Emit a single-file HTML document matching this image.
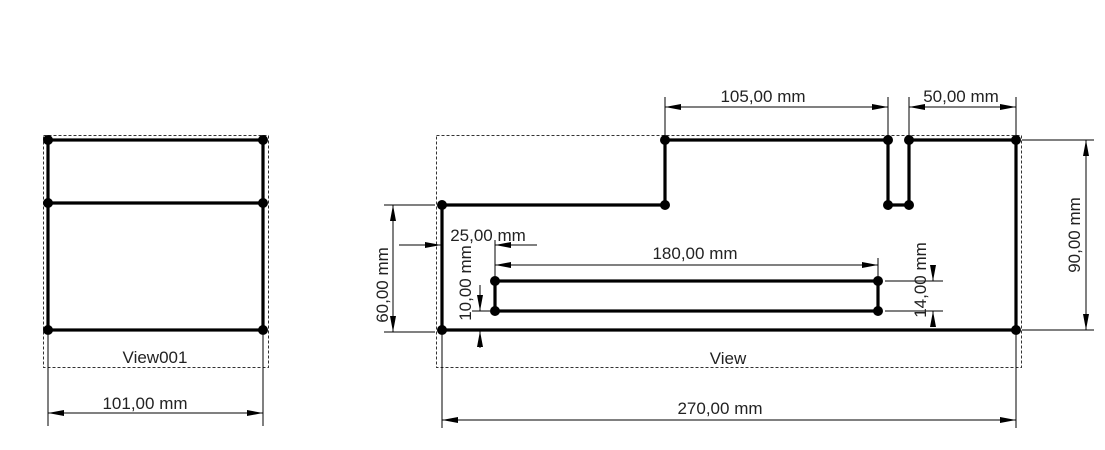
<!DOCTYPE html>
<html><head><meta charset="utf-8"><style>
body{margin:0;background:#fff;width:1105px;height:445px;overflow:hidden}
text{font-family:"Liberation Sans","DejaVu Sans",sans-serif;font-size:17px;fill:#222}
</style></head><body>
<svg width="1105" height="445" viewBox="0 0 1105 445" xmlns="http://www.w3.org/2000/svg">
<defs>
<marker id="a" viewBox="0 0 16 8" refX="16" refY="4" markerWidth="16" markerHeight="8" orient="auto-start-reverse" markerUnits="userSpaceOnUse"><path d="M0,1 L16,4 L0,7 z" fill="#000"/></marker>
</defs>
<g fill="none" stroke="#333" stroke-width="1" stroke-dasharray="3,2">
<rect x="43.5" y="135.5" width="225" height="232"/>
<rect x="436.5" y="135.5" width="585" height="232"/>
</g>
<g fill="none" stroke="#000" stroke-width="3.2">
<rect x="48" y="140" width="215" height="190"/>
<line x1="48" y1="203" x2="263" y2="203"/>
<path d="M442,205 L665,205 L665,140 L888,140 L888,205 L909,205 L909,140 L1016,140 L1016,330 L442,330 Z"/>
<rect x="495" y="281" width="383" height="30"/>
</g>
<g fill="#000">
<circle cx="48" cy="140" r="5"/><circle cx="263" cy="140" r="5"/><circle cx="48" cy="203" r="5"/><circle cx="263" cy="203" r="5"/><circle cx="48" cy="330" r="5"/><circle cx="263" cy="330" r="5"/>
<circle cx="442" cy="205" r="5"/><circle cx="665" cy="205" r="5"/><circle cx="665" cy="140" r="5"/><circle cx="888" cy="140" r="5"/><circle cx="888" cy="205" r="5"/><circle cx="909" cy="205" r="5"/><circle cx="909" cy="140" r="5"/><circle cx="1016" cy="140" r="5"/><circle cx="1016" cy="330" r="5"/><circle cx="442" cy="330" r="5"/>
<circle cx="495" cy="281" r="5"/><circle cx="878" cy="281" r="5"/><circle cx="495" cy="311" r="5"/><circle cx="878" cy="311" r="5"/>
</g>
<g stroke="#000" stroke-width="1" fill="none">
<line x1="48" y1="335" x2="48" y2="426"/><line x1="263" y1="335" x2="263" y2="426"/>
<line x1="48" y1="413" x2="263" y2="413" marker-start="url(#a)" marker-end="url(#a)"/>
<line x1="442" y1="335" x2="442" y2="428"/><line x1="1016" y1="335" x2="1016" y2="428"/>
<line x1="442" y1="420" x2="1016" y2="420" marker-start="url(#a)" marker-end="url(#a)"/>
<line x1="665" y1="97" x2="665" y2="135"/><line x1="888" y1="97" x2="888" y2="135"/>
<line x1="665" y1="107" x2="888" y2="107" marker-start="url(#a)" marker-end="url(#a)"/>
<line x1="909" y1="97" x2="909" y2="135"/><line x1="1016" y1="97" x2="1016" y2="135"/>
<line x1="909" y1="107" x2="1016" y2="107" marker-start="url(#a)" marker-end="url(#a)"/>
<line x1="1022" y1="140" x2="1094" y2="140"/><line x1="1022" y1="330" x2="1094" y2="330"/>
<line x1="1086" y1="140" x2="1086" y2="330" marker-start="url(#a)" marker-end="url(#a)"/>
<line x1="384" y1="205" x2="435" y2="205"/><line x1="384" y1="332" x2="435" y2="332"/>
<line x1="393" y1="205" x2="393" y2="332" marker-start="url(#a)" marker-end="url(#a)"/>
<line x1="399" y1="245" x2="441" y2="245" marker-end="url(#a)"/>
<line x1="537" y1="245" x2="495" y2="245" marker-end="url(#a)"/>
<line x1="495" y1="240" x2="495" y2="281"/>
<line x1="495" y1="265" x2="878" y2="265" marker-start="url(#a)" marker-end="url(#a)"/>
<line x1="878" y1="258" x2="878" y2="281"/>
<line x1="472" y1="311" x2="490" y2="311"/>
<line x1="480" y1="285" x2="480" y2="311" marker-end="url(#a)"/>
<line x1="480" y1="348" x2="480" y2="331" marker-end="url(#a)"/>
<line x1="885" y1="281" x2="943" y2="281"/><line x1="885" y1="311" x2="943" y2="311"/>
<line x1="933" y1="265" x2="933" y2="281" marker-end="url(#a)"/>
<line x1="933" y1="327" x2="933" y2="311" marker-end="url(#a)"/>
</g>
<text x="155" y="363" text-anchor="middle">View001</text>
<text x="728" y="364" text-anchor="middle">View</text>
<text x="145" y="409" text-anchor="middle">101,00 mm</text>
<text x="720" y="414" text-anchor="middle">270,00 mm</text>
<text x="763" y="102" text-anchor="middle">105,00 mm</text>
<text x="961" y="102" text-anchor="middle">50,00 mm</text>
<text x="488" y="241" text-anchor="middle">25,00 mm</text>
<text x="695" y="259" text-anchor="middle">180,00 mm</text>
<text transform="translate(1080,235) rotate(-90)" text-anchor="middle">90,00 mm</text>
<text transform="translate(388,285) rotate(-90)" text-anchor="middle">60,00 mm</text>
<text transform="translate(471,283) rotate(-90)" text-anchor="middle">10,00 mm</text>
<text transform="translate(926,280) rotate(-90)" text-anchor="middle">14,00 mm</text>
</svg>
</body></html>
